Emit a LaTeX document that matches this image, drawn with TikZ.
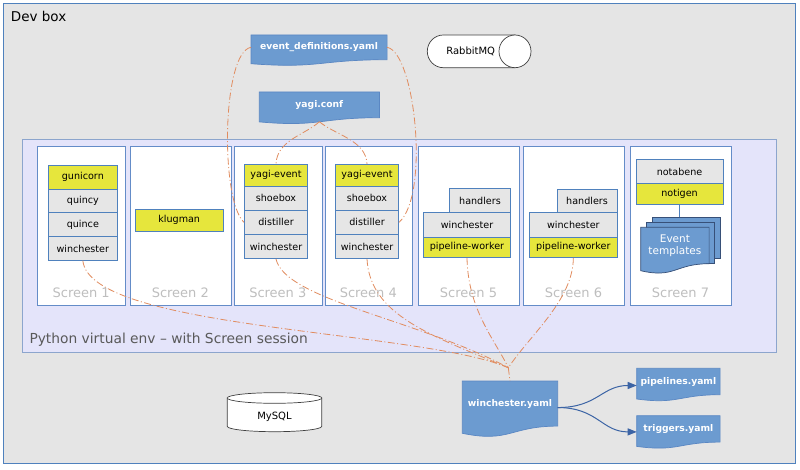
\documentclass[tikz,border=0pt]{standalone}
\usepackage{fontspec}
\setmainfont{DejaVu Sans}
\usetikzlibrary{arrows.meta,calc}
\pgfdeclarelayer{bg}
\pgfdeclarelayer{docs}
\pgfsetlayers{bg,docs,main}
\definecolor{devfill}{RGB}{229,229,229}
\definecolor{devline}{RGB}{79,129,189}
\definecolor{envfill}{RGB}{228,228,250}
\definecolor{envline}{RGB}{140,165,205}
\definecolor{scrline}{RGB}{100,140,200}
\definecolor{boxline}{RGB}{79,129,189}
\definecolor{boxgray}{RGB}{230,230,230}
\definecolor{boxyel}{RGB}{230,230,60}
\definecolor{docfill}{RGB}{108,155,208}
\definecolor{docline}{RGB}{90,135,195}
\definecolor{evtline}{RGB}{55,80,120}
\definecolor{dashcol}{RGB}{225,140,95}
\definecolor{arrcol}{RGB}{60,100,165}
\definecolor{scrtext}{RGB}{190,190,190}
\definecolor{envtext}{RGB}{89,89,89}
\tikzset{
  stk/.style={draw=boxline, line width=0.7pt, fill=boxgray, inner sep=0pt, anchor=north west,
    font=\fontsize{9.6}{11}\selectfont, text=black},
  yel/.style={stk, fill=boxyel},
  scr/.style={draw=scrline, fill=white, line width=0.8pt, inner sep=0pt, anchor=north west, minimum height=159pt},
  scrlab/.style={text=scrtext, font=\fontsize{13}{15}\selectfont, inner sep=0pt},
  docn/.style={inner sep=0pt, anchor=north west, text=white, font=\bfseries\fontsize{9.2}{11}\selectfont},
  docsty/.style={fill=docfill, draw=docline, line width=0.7pt},
  backdoc/.style={fill=docfill, draw=evtline, line width=0.7pt, inner sep=0pt, anchor=north west},
  link/.style={draw=dashcol, line width=0.8pt, dash pattern=on 7pt off 2.5pt on 1pt off 2.5pt},
  flow/.style={draw=arrcol, line width=1pt, -{Triangle[length=9pt,width=7pt]}},
  cyl/.style={fill=white, draw=black!75, line width=0.7pt}
}
\newcommand\docshape[4][docsty]{%
  \path[#1] (#2.north west) -- (#2.north east) -- (#2.south east)
    .. controls (#2.south) and ($(#2.south)+(0,#4)$) .. ($(#2.south west)+(0,#3)$) -- cycle;}
\begin{document}
\begin{tikzpicture}[x=1pt,y=-1pt]
\useasboundingbox (0,0) rectangle (800,470);
\begin{pgfonlayer}{bg}
  \node[draw=devline, fill=devfill, line width=0.8pt, inner sep=0pt, anchor=north west,
        minimum width=792.3pt, minimum height=460pt] (dev) at (2.7,3.3) {};
  \node[draw=envline, fill=envfill, line width=1.2pt, inner sep=0pt, anchor=north west,
        minimum width=754pt, minimum height=212.7pt] (env) at (21.7,139) {};
  \node[scr, minimum width=87.7pt] (s1) at (37.3,146) {};
  \node[scr, minimum width=100.7pt] (s2) at (130,146) {};
  \node[scr, minimum width=87.7pt] (s3) at (234,146) {};
  \node[scr, minimum width=86.7pt] (s4) at (325,146) {};
  \node[scr, minimum width=101pt] (s5) at (418,146) {};
  \node[scr, minimum width=101pt] (s6) at (523,146) {};
  \node[scr, minimum width=101pt] (s7) at (630,146) {};
\end{pgfonlayer}

\node[anchor=west, inner sep=0pt, font=\fontsize{13.5}{16}\selectfont] (devlab) at (10.7,16.7) {Dev box};
\node[anchor=west, inner sep=0pt, text=envtext, font=\fontsize{13.8}{16}\selectfont] (envlab) at (29.3,340) {Python virtual env -- with Screen session};

\node[scrlab] (l1) at (81.2,293) {Screen 1};
\node[scrlab] (l2) at (180.3,293) {Screen 2};
\node[scrlab] (l3) at (277.8,293) {Screen 3};
\node[scrlab] (l4) at (368.3,293) {Screen 4};
\node[scrlab] (l5) at (468.5,293) {Screen 5};
\node[scrlab] (l6) at (573.5,293) {Screen 6};
\node[scrlab] (l7) at (680.5,293) {Screen 7};

% Screen 1
\node[yel, minimum width=68.4pt, minimum height=23.75pt] (gun) at (48.3,165) {gunicorn};
\node[stk, minimum width=68.4pt, minimum height=23.75pt] (quincy) at (48.3,188.75) {quincy};
\node[stk, minimum width=68.4pt, minimum height=23.75pt] (quince) at (48.3,212.5) {quince};
\node[stk, minimum width=68.4pt, minimum height=23.75pt] (win1) at (48.3,236.25) {winchester};
% Screen 2
\node[yel, minimum width=87.7pt, minimum height=21.4pt] (klug) at (135,209.3) {klugman};
% Screen 3
\node[yel, minimum width=63.3pt, minimum height=22pt] (yagi3) at (244,164) {yagi-event};
\node[stk, minimum width=63.3pt, minimum height=24pt] (shoe3) at (244,186) {shoebox};
\node[stk, minimum width=63.3pt, minimum height=24pt] (dist3) at (244,210) {distiller};
\node[stk, minimum width=63.3pt, minimum height=24.3pt] (win3) at (244,234) {winchester};
% Screen 4
\node[yel, minimum width=63.3pt, minimum height=22pt] (yagi4) at (335,164) {yagi-event};
\node[stk, minimum width=63.3pt, minimum height=24pt] (shoe4) at (335,186) {shoebox};
\node[stk, minimum width=63.3pt, minimum height=24pt] (dist4) at (335,210) {distiller};
\node[stk, minimum width=63.3pt, minimum height=24.3pt] (win4) at (335,234) {winchester};
% Screen 5
\node[stk, minimum width=60.7pt, minimum height=24pt] (hand5) at (449.3,188.3) {handlers};
\node[stk, minimum width=86.7pt, minimum height=24.4pt] (win5) at (423.3,212.3) {winchester};
\node[yel, minimum width=86.7pt, minimum height=20.6pt] (pw5) at (423.3,236.7) {pipeline-worker};
% Screen 6
\node[stk, minimum width=60pt, minimum height=23pt] (hand6) at (556.7,189.3) {handlers};
\node[stk, minimum width=87.4pt, minimum height=24.4pt] (win6) at (529.3,212.3) {winchester};
\node[yel, minimum width=87.4pt, minimum height=20.6pt] (pw6) at (529.3,236.7) {pipeline-worker};
% Screen 7
\node[stk, minimum width=87pt, minimum height=24pt] (nota) at (635.7,159.3) {notabene};
\node[yel, minimum width=87pt, minimum height=21pt] (notigen) at (635.7,183.3) {notigen};

% documents
\node[docn, minimum width=135.7pt, minimum height=24.3pt] (evdef) at (251,35) {event\_definitions.yaml};
\node[docn, minimum width=119.7pt, minimum height=25.3pt] (yagi) at (259.3,92) {yagi.conf};
\node[docn, minimum width=95pt, minimum height=44.7pt] (winyaml) at (462.3,381) {winchester.yaml};
\node[docn, minimum width=83pt, minimum height=26pt] (pipes) at (636.7,368.3) {pipelines.yaml};
\node[docn, minimum width=83pt, minimum height=26pt] (trig) at (636.7,415.7) {triggers.yaml};
\node[inner sep=0pt, anchor=north west, text=white, align=center, minimum width=68pt, minimum height=36pt,
      font=\fontsize{10.5}{12}\selectfont] (evt) at (640.7,227.3) {Event\\templates};

\begin{pgfonlayer}{docs}
  \docshape{evdef}{4}{9.2}
  \docshape{yagi}{4.2}{9.6}
  \docshape{winyaml}{7.2}{17}
  \docshape{pipes}{4.3}{9.9}
  \docshape{trig}{4.3}{9.9}
  \node[backdoc, minimum width=68.3pt, minimum height=41.6pt] (evb) at (651.7,216.7) {};
  \node[backdoc, minimum width=68.3pt, minimum height=41.3pt] (evm) at (646,222) {};
  \docshape[backdoc]{evt}{7}{15}
  % RabbitMQ
  \path[cyl] (443.3,35) -- (515,35) -- (515,67.7) -- (443.3,67.7)
     .. controls (434.5,67.7) and (427.3,60.3) .. (427.3,51.35)
     .. controls (427.3,42.3) and (434.5,35) .. (443.3,35) -- cycle;
  \path[cyl] (515,51.35) ellipse [x radius=16, y radius=16.35];
  % MySQL
  \path[cyl] (227.3,398) -- (227.3,426.4) .. controls (227.3,429.3) and (248.4,431.7) .. (274.5,431.7)
     .. controls (300.6,431.7) and (321.7,429.3) .. (321.7,426.4) -- (321.7,398) -- cycle;
  \path[cyl] (274.5,398) ellipse [x radius=47.2, y radius=5.3];
\end{pgfonlayer}
\node[inner sep=0pt, font=\fontsize{10}{12}\selectfont] (rmq) at (470.7,51.5) {RabbitMQ};
\node[inner sep=0pt, font=\fontsize{10}{12}\selectfont] (mysql) at (274.5,416.7) {MySQL};

% notigen to templates
\draw[boxline, line width=0.7pt] (notigen.south) -- (notigen.south |- evb.north);

% dash-dot links
\coordinate (conv) at (508.3,367.7);
\coordinate (yagib) at ($(yagi.south)+(0,4)$);
\draw[link] (evdef.west) .. controls (222,52) and (220,200) .. (dist3.west);
\draw[link] (evdef.east) .. controls (415,52) and (430,195) .. (dist4.east);
\draw[link] (yagib) .. controls (305,135) and (277,140) .. (yagi3.north);
\draw[link] (yagib) .. controls (335,135) and (366,140) .. (yagi4.north);
\draw[link] (win1.south) .. controls (90,330) and (420,330) .. (conv);
\draw[link] (win3.south) .. controls (285,300) and (420,320) .. (conv);
\draw[link] (win4.south) .. controls (370,315) and (430,335) .. (conv);
\draw[link] (pw5.south) .. controls (468,310) and (495,340) .. (conv);
\draw[link] (pw6.south) .. controls (573,300) and (530,335) .. (conv);
\draw[link] (conv) -- (winyaml.north);

% flows
\draw[flow] ([yshift=-4pt]winyaml.east) .. controls +(40,0) and +(-35,0) .. ([yshift=-4pt]pipes.west);
\draw[flow] ([yshift=-4pt]winyaml.east) .. controls +(40,0) and +(-35,0) .. ([yshift=-3pt]trig.west);
\end{tikzpicture}
\end{document}
